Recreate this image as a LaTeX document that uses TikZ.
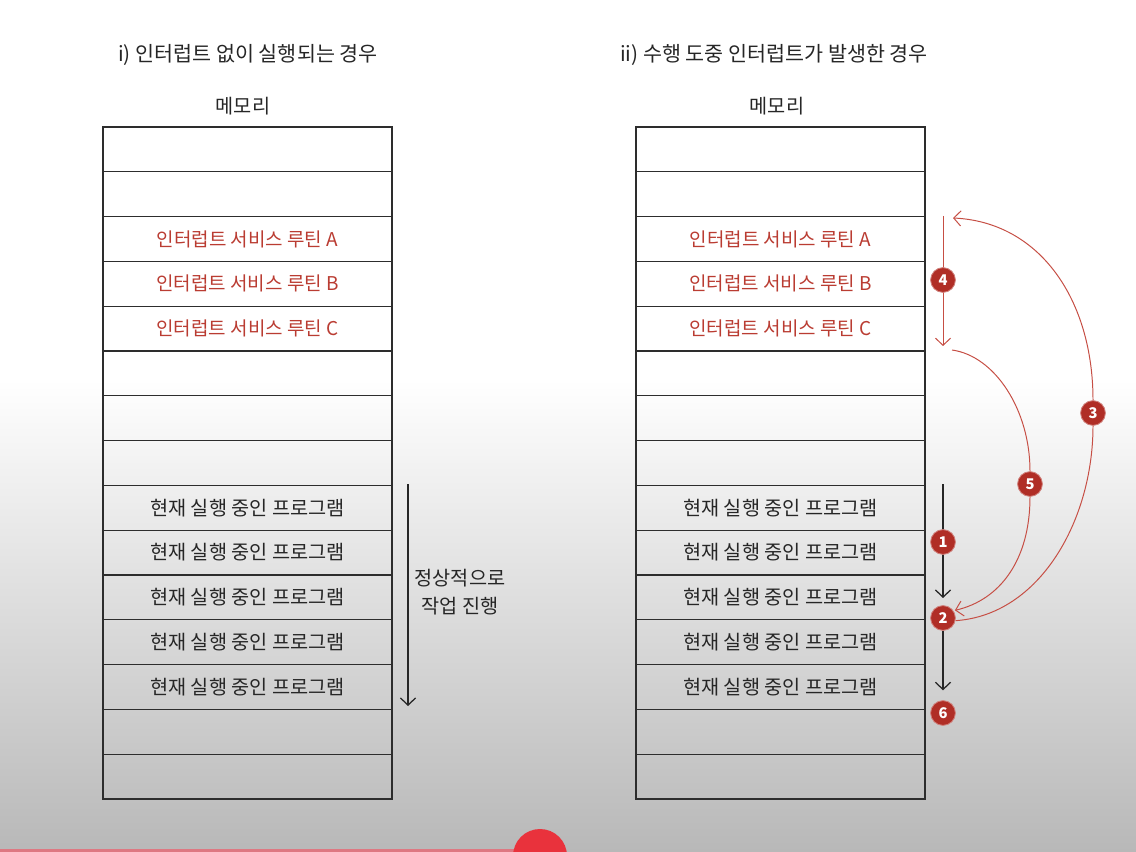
\documentclass[tikz,border=0pt]{standalone}
\usepackage{fontspec}
\setmainfont{Noto Sans CJK KR}
\usetikzlibrary{arrows.meta,positioning}
\definecolor{isrred}{RGB}{186,60,50}
\definecolor{numred}{RGB}{176,46,38}
\definecolor{curvered}{RGB}{198,78,68}
\definecolor{gridgray}{RGB}{45,45,45}
\definecolor{playred}{RGB}{233,50,60}
\definecolor{barpink}{RGB}{222,120,130}
\definecolor{bggray}{RGB}{184,184,184}

\begin{document}
\begin{tikzpicture}[
    x=0.025cm, y=-0.025cm,
    cell/.style={rectangle, draw=gridgray, line width=0.9pt, minimum width=7.225cm, minimum height=1.12cm, inner sep=0pt},
    isr/.style={text=isrred, font=\fontsize{13.5}{16}\selectfont},
    prog/.style={text=black!85, font=\fontsize{14}{20}\selectfont},
    title/.style={text=black!85, font=\fontsize{14.7}{17}\selectfont},
    num/.style={circle, fill=numred, draw=numred!60!white, line width=0.6pt, minimum size=0.62cm, inner sep=0pt, text=white, font=\fontsize{10.5}{12}\bfseries\selectfont},
    flow/.style={-{Straight Barb[length=1.8mm,width=3.8mm]}, line width=0.9pt, draw=black!85},
    redflow/.style={flow, draw=curvered, line width=0.7pt}
]
    % background
    \useasboundingbox (0,0) rectangle (1136,852);
    \fill[white] (0,0) rectangle (1136,380);
    \shade[top color=white, bottom color=bggray] (0,379) rectangle (1136,852);

    % titles
    \node[title] (ltitle) at (248,55) {i) 인터럽트 없이 실행되는 경우};
    \node[title] (rtitle) at (774,55) {ii) 수행 도중 인터럽트가 발생한 경우};
    \node[prog] (lmem) at (243,106) {메모리};
    \node[prog] (rmem) at (777,106) {메모리};

    % memory cells
    \foreach \i in {0,...,14} {
        \node[cell] (L\i) at (247.5,{149.4+44.8*\i}) {};
        \node[cell] (R\i) at (780.5,{149.4+44.8*\i}) {};
    }
    \node[isr] (la) at (L2) {인터럽트 서비스 루틴 A};
    \node[isr] (lb) at (L3) {인터럽트 서비스 루틴 B};
    \node[isr] (lc) at (L4) {인터럽트 서비스 루틴 C};
    \node[isr] (ra) at (R2) {인터럽트 서비스 루틴 A};
    \node[isr] (rb) at (R3) {인터럽트 서비스 루틴 B};
    \node[isr] (rc) at (R4) {인터럽트 서비스 루틴 C};
    \foreach \i in {8,...,12} {
        \node[prog] (lp\i) at (L\i) {현재 실행 중인 프로그램};
        \node[prog] (rp\i) at (R\i) {현재 실행 중인 프로그램};
    }

    % left: normal flow
    \coordinate (lstart) at (408,484);
    \coordinate (lend) at (408,706);
    \draw[flow] (lstart) -- (lend);
    \node[prog, align=center] (normal) at (460,592) {정상적으로\\작업 진행};

    % right: interrupt flow
    \coordinate (s1) at (943,484);
    \coordinate (e1) at (943,598);
    \coordinate (s4) at (943,216);
    \coordinate (e4) at (943,346);
    \coordinate (s5) at (952,350);
    \coordinate (e3) at (953,218);
    \draw[flow] (s1) -- (e1);
    \draw[redflow] (s4) -- (e4);

    \node[num] (c1) at (943,542) {1};
    \node[num] (c2) at (943,618) {2};
    \node[num] (c3) at (1093,413) {3};
    \node[num] (c4) at (943,280) {4};
    \node[num] (c5) at (1030,484) {5};
    \node[num] (c6) at (943,713) {6};

    \draw[flow, shorten >=7pt] (c2) -- (c6);
    \draw[curvered, line width=0.7pt] (c2.-12) .. controls (1040,615) and (1093,520) .. (c3.south);
    \draw[redflow] (c3.north) .. controls (1093,300) and (1040,222) .. (e3);
    \draw[curvered, line width=0.7pt] (s5) .. controls (995,356) and (1030,410) .. (c5.north);
    \draw[redflow, shorten >=1pt] (c5.south) .. controls (1030,560) and (1000,600) .. (c2.35);

    % player dot
    \fill[barpink] (0,849) rectangle (540,852);
    \node[circle, fill=playred, minimum size=1.35cm, inner sep=0pt] (dot) at (540,856) {};
\end{tikzpicture}
\end{document}
